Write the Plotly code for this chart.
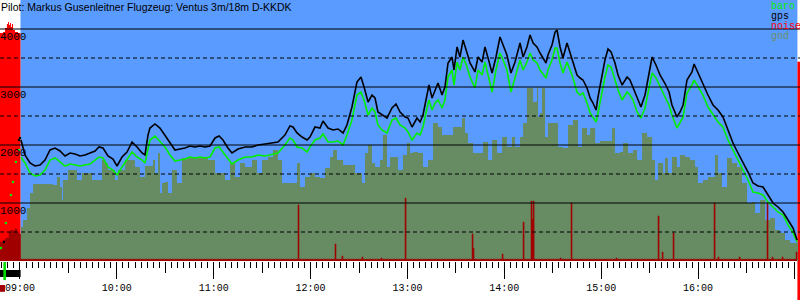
import plotly.graph_objects as go
import pandas as pd

BASE = pd.Timestamp("2000-01-01 09:00:00")

TITLE = "Pilot: Markus Gusenleitner Flugzeug: Ventus 3m/18m D-KKDK"

# ---- flight track: minutes after 09:00, gps altitude, baro altitude (m)
track_min = [0.6, 3.1, 6.2, 9.3, 12.4, 15.5, 18.6, 21.7, 24.8, 27.9, 31.0, 34.1, 37.2, 40.3, 43.4,
             46.5, 48.9, 51.4, 54.5, 57.6, 60.1, 63.2, 66.3, 69.4, 72.5, 75.6, 77.4, 79.3, 80.5,
             83.6, 86.7, 89.8, 92.9, 96.0, 99.1, 102.2, 105.3, 108.4, 111.5, 114.6, 117.7, 120.8,
             123.3, 125.7, 128.8, 131.3, 135.0, 139.4, 143.7, 147.4, 151.8, 156.1, 159.8, 164.1,
             167.2, 169.1, 171.6, 174.7, 177.8, 179.6, 182.7, 185.8, 187.7, 190.8, 193.9, 197.0,
             200.1, 202.5, 205.6, 208.7, 211.2, 213.1, 215.6, 218.0, 219.9, 221.7, 224.2, 227.3,
             230.4, 232.9, 235.4, 238.5, 240.3, 242.8, 245.9, 247.8, 249.6, 252.1, 253.3, 255.2,
             257.1, 258.9, 261.4, 263.2, 265.1, 267.6, 268.8, 270.7, 272.5, 274.4, 276.9, 278.7,
             281.8, 283.7, 286.2, 288.0, 289.9, 292.4, 294.8, 297.3, 299.2, 301.6, 304.1, 306.6,
             309.7, 311.6, 314.0, 315.9, 317.8, 320.2, 322.1, 325.8, 327.0, 329.5, 331.4, 332.6,
             334.5, 336.3, 338.8, 340.7, 342.5, 345.0, 346.9, 348.7, 351.2, 353.1, 354.9, 356.8,
             358.0, 360.5, 362.3, 364.2, 366.1, 368.5, 370.4, 372.9, 376.0, 377.8, 379.7, 382.2,
             384.6, 387.1, 389.0, 391.5, 393.9, 396.4, 399.5, 402.0, 403.8, 406.9, 408.8, 410.7,
             413.1, 416.2, 417.5, 419.9, 423.0, 426.1, 429.2, 432.3, 435.4, 438.5, 441.6, 444.7,
             447.8, 450.9, 454.0, 457.1, 460.2, 463.3, 466.4, 469.5, 472.6, 475.7, 478.8, 481.3]

gps_alt = [2086, 1828, 1690, 1638, 1655, 1741, 1914, 1948, 1897, 1810, 1862, 1845, 1810, 1828, 1862,
           1897, 1966, 1948, 1810, 1759, 1638, 1793, 1879, 2052, 1966, 1862, 1828, 2172, 2293,
           2362, 2293, 2172, 2052, 1914, 1931, 1948, 1983, 1966, 1983, 1966, 1983, 2121,
           2155, 2086, 1948, 1862, 1931, 1966, 1966, 2000, 2017, 2034, 2052, 2172,
           2328, 2310, 2207, 2138, 2086, 2138, 2310, 2293, 2414, 2293, 2259, 2276,
           2207, 2345, 2655, 3086, 3172, 3000, 2741, 2862, 2810, 2569, 2517, 2465,
           2638, 2707, 2569, 2483, 2465, 2310, 2465, 2397, 2517, 2862, 3034, 2810,
           2948, 3069, 2862, 3000, 3414, 3517, 3293, 3690, 3517, 3810, 3586, 3414,
           3259, 3517, 3431, 3690, 3500, 3241, 3517, 3862, 3724, 3552, 3241, 3431,
           3759, 3517, 3690, 3897, 3759, 3690, 3586, 3414, 3552, 3724, 3948, 3983,
           3690, 3500, 3759, 3586, 3414, 3207, 3155, 3121, 2983, 2810, 2724, 2603,
           2828, 3172, 3466, 3655, 3603, 3414, 3207, 3034, 3172, 3121, 2983, 2810,
           2655, 2862, 3172, 3517, 3379, 3207, 3060, 2914, 2690, 2483, 2569, 2690,
           3121, 3259, 3396, 3241, 3069, 2862, 2690, 2603, 2483, 2259, 2034, 1862,
           1707, 1534, 1345, 1293, 1276, 1138, 1000, 931, 845, 707, 569, 362]

baro_alt = [1793, 1690, 1517, 1466, 1483, 1569, 1741, 1776, 1707, 1638, 1672, 1655, 1638, 1655, 1672,
            1741, 1793, 1776, 1621, 1569, 1483, 1621, 1741, 1879, 1793, 1741, 1690, 1966, 2086,
            2155, 2052, 1966, 1828, 1724, 1741, 1759, 1793, 1776, 1793, 1776, 1793, 1948,
            1966, 1879, 1759, 1672, 1741, 1793, 1793, 1828, 1810, 1845, 1862, 2000,
            2121, 2086, 1966, 1948, 1879, 1966, 2086, 2121, 2190, 2052, 2052, 2069,
            2000, 2172, 2431, 2862, 2914, 2776, 2517, 2638, 2569, 2345, 2259, 2207,
            2431, 2465, 2345, 2293, 2224, 2086, 2207, 2172, 2310, 2638, 2776, 2603,
            2724, 2776, 2638, 2776, 3172, 3293, 3034, 3431, 3293, 3517, 3345, 3172,
            2983, 3293, 3207, 3431, 3207, 2914, 3293, 3586, 3466, 3293, 2914, 3172,
            3466, 3293, 3431, 3586, 3466, 3414, 3293, 3155, 3293, 3466, 3672, 3672,
            3414, 3241, 3431, 3293, 3155, 2914, 2862, 2897, 2724, 2552, 2483, 2397,
            2552, 2914, 3172, 3379, 3345, 3121, 2948, 2776, 2914, 2862, 2776, 2569,
            2465, 2638, 2914, 3241, 3155, 3000, 2828, 2690, 2517, 2293, 2379, 2483,
            2897, 3034, 3121, 3000, 2862, 2655, 2517, 2397, 2310, 2086, 1914, 1741,
            1569, 1397, 1190, 1172, 1138, 1017, 931, 845, 793, 621, 483, 328]

# launch (aerotow) fixes before 09:00
launch_baro_min = [-11.8, -8.7, -5.6, -4.3, -2.5, -0.6]
launch_baro = [224, 655, 1138, 1362, 1707, 1914]
launch_gps_min = [-9.9, -0.6, 0.0]
launch_gps = [328, 2086, 2121]

# ---- ground elevation below the track
gnd_min = [0.6, 1.9, 4.3, 6.2, 8.1, 10.5, 17.3, 20.4, 22.9, 24.8, 26.0, 26.6, 29.7, 32.8, 35.3,
           38.4, 41.5, 44.6, 50.8, 52.6, 54.5, 58.8, 60.7, 65.1, 68.1, 71.2, 74.3, 77.4, 80.5,
           82.4, 83.6, 85.5, 86.7, 88.0, 89.8, 91.7, 94.1, 97.2, 100.3, 103.4, 108.4, 112.7,
           116.4, 120.8, 125.1, 127.0, 130.1, 133.2, 136.3, 139.4, 143.7, 146.8, 149.9, 153.6,
           156.7, 159.8, 162.3, 168.5, 171.6, 173.4, 176.5, 179.6, 182.7, 185.8, 188.9, 192.0,
           193.9, 196.3, 200.1, 203.2, 207.5, 211.8, 213.7, 215.6, 218.0, 219.9, 223.0, 224.8,
           227.3, 229.2, 232.3, 234.1, 237.2, 239.7, 241.6, 243.4, 246.5, 249.6, 252.7, 255.8,
           258.9, 261.4, 265.1, 268.2, 271.3, 273.8, 275.6, 277.5, 280.6, 283.7, 286.8, 289.9,
           292.4, 295.5, 298.6, 301.6, 304.7, 306.6, 309.7, 311.6, 314.0, 315.9, 317.8, 320.2,
           320.9, 322.1, 323.3, 325.2, 327.0, 330.1, 333.2, 336.3, 339.4, 342.5, 345.6, 348.1,
           351.2, 353.1, 356.2, 359.3, 363.6, 366.7, 368.5, 371.6, 373.5, 376.6, 379.7, 382.2,
           385.3, 388.4, 391.5, 393.3, 395.2, 398.3, 399.5, 401.3, 403.8, 406.9, 408.8, 411.9,
           415.0, 418.1, 419.9, 423.0, 426.1, 430.5, 432.3, 434.8, 437.9, 441.0, 444.1, 447.2,
           450.3, 453.4, 455.3, 458.4, 461.5, 464.6, 467.6, 470.7, 473.8, 476.9, 480.0, 481.9]
gnd_alt = [586, 707, 914, 1172, 1328, 1328, 1328, 1310, 1448, 1276, 1052, 1397, 1569, 1569, 1397,
           1517, 1517, 1397, 1741, 1690, 1569, 1397, 1569, 1741, 1741, 1621, 1448, 1638, 1638,
           1741, 1517, 1862, 1172, 1345, 1362, 1172, 1569, 1345, 1776, 1793, 1776, 1793,
           1741, 1517, 1517, 1397, 1690, 1448, 1690, 1621, 1741, 1517, 1741, 1793,
           1914, 1741, 1345, 1345, 1690, 1276, 1448, 1517, 1448, 1431, 1603, 1793,
           1914, 1741, 1655, 1655, 1517, 1345, 1862, 2000, 1690, 1621, 1741, 2172,
           1621, 1793, 1793, 1569, 1828, 2034, 1862, 1879, 1862, 1621, 1741, 2379,
           2310, 2172, 2172, 2310, 2310, 2465, 2207, 2034, 1862, 1862, 2052, 1741,
           2086, 1862, 2138, 1966, 2138, 1966, 2138, 2379, 2983, 2983, 2741, 3000,
           2483, 2552, 2983, 2138, 2379, 2379, 1966, 1948, 2345, 2431, 1966, 2293,
           2172, 2293, 2034, 2069, 2069, 2293, 1862, 1879, 2034, 1862, 1914, 1741,
           2207, 2138, 1741, 1397, 1690, 1517, 1776, 1517, 1793, 1621, 1828, 1793,
           1741, 1621, 1345, 1397, 1448, 1828, 1517, 1276, 1776, 1690, 1621, 1345,
           1000, 1017, 828, 1052, 707, 741, 534, 483, 362, 310, 310, 138]

# ---- engine noise level (drawn on the altitude scale)
noise_min = [-12.4, -10.5, -8.7, -6.8, -5.6, -4.3, -3.1, -1.9, -0.6, 0.3,
             172.2, 172.8, 195.1, 195.7, 199.4, 200.0, 211.8, 212.4, 223.6, 224.2, 238.5, 239.1,
             280.0, 280.6, 281.2, 298.6, 299.2, 311.6, 312.2, 316.5, 317.1, 317.8, 318.4,
             334.5, 335.1, 341.3, 341.9, 369.2, 369.8, 395.2, 395.8, 397.7, 398.3, 404.5, 405.1,
             429.9, 430.5, 432.3, 432.9, 445.4, 446.0, 462.7, 463.3, 465.8, 466.4, 472.0, 472.6,
             480.7, 481.3]
noise_val = [328, 362, 397, 500, 534, 517, 552, 483, 466, 30,
             966, 30, 293, 30, 86, 30, 69, 30, 52, 30, 1086, 30,
             466, 224, 30, 121, 30, 672, 30, 1034, 724, 1034, 30,
             52, 30, 1000, 30, 52, 30, 776, 30, 155, 30, 483, 30,
             1000, 30, 69, 30, 69, 30, 1000, 30, 69, 30, 69, 30,
             155, 30]

# noise outside the flight (before release / after landing), high level
noise_pre_min = [-12.4, -10.5, -9.3, -8.1, -7.4, -6.8, -6.2, -5.6, -5.0, -4.3, -3.1, -1.2, 0.3]
noise_pre_val = [3931, 3948, 4017, 4086, 4121, 4069, 4103, 4034, 4086, 3983, 3948, 3931, 3931]
noise_post_min = [481.5, 483.1]
noise_post_val = [3436, 3436]

flight_window = [0.3, 481.5]
x_range_min = [-12.38, 483.1]

y_major = [1000, 2000, 3000, 4000]
y_minor = [500, 1500, 2500, 3500]
y_range = [0, 4500]

legend_names = ["baro", "gps", "noise", "gnd"]
legend_colors = ["#00ee00", "#000000", "#ff0000", "#6f8f68"]

SKY = "#5a9bff"
GND = "#678c63"
DARKRED = "#a00000"
MONO = "Liberation Mono, DejaVu Sans Mono, monospace"


def tt(mins):
    return [None if m is None else BASE + pd.Timedelta(minutes=m) for m in mins]


fig = go.Figure()

for xm, yv in ((noise_pre_min, noise_pre_val), (noise_post_min, noise_post_val)):
    fig.add_trace(go.Scatter(x=tt(xm), y=yv, mode="lines", line_shape="hv",
                             fill="tozeroy", fillcolor="#ff0000",
                             line=dict(color="#ff0000", width=0),
                             showlegend=False, hoverinfo="skip"))
fig.add_trace(go.Scatter(x=tt(gnd_min), y=gnd_alt, mode="lines", line_shape="hv", name="gnd",
                         fill="tozeroy", fillcolor=GND, line=dict(color=GND, width=0),
                         showlegend=False))
fig.add_trace(go.Scatter(x=tt(noise_min), y=noise_val, mode="lines", line_shape="hv", name="noise",
                         fill="tozeroy", fillcolor=DARKRED, line=dict(color=DARKRED, width=0.6),
                         showlegend=False))
fig.add_trace(go.Scatter(x=tt(launch_baro_min), y=launch_baro, mode="markers",
                         marker=dict(color="#00ee00", size=2.5), showlegend=False, hoverinfo="skip"))
fig.add_trace(go.Scatter(x=tt(launch_gps_min), y=launch_gps, mode="markers",
                         marker=dict(color="#000000", size=2.5), showlegend=False, hoverinfo="skip"))
fig.add_trace(go.Scatter(x=tt(track_min), y=baro_alt, mode="lines", name="baro",
                         line=dict(color="#00ee00", width=1.6), showlegend=False))
fig.add_trace(go.Scatter(x=tt(track_min), y=gps_alt, mode="lines", name="gps",
                         line=dict(color="#000000", width=1.6), showlegend=False))
# carrier for the half-hour tick axis
fig.add_trace(go.Scatter(x=tt([0]), y=[None], xaxis="x2", mode="lines", showlegend=False,
                         hoverinfo="skip"))

shapes = []
# sky (flight period) background
shapes.append(dict(type="rect", xref="x", yref="paper", x0=tt([flight_window[0]])[0],
                   x1=tt([flight_window[1]])[0], y0=0, y1=1, fillcolor=SKY,
                   line=dict(width=0), layer="below"))
for v in y_major:
    shapes.append(dict(type="line", xref="paper", yref="y", x0=0, x1=1, y0=v, y1=v,
                       line=dict(color="black", width=1), layer="above"))
for v in y_minor:
    shapes.append(dict(type="line", xref="paper", yref="y", x0=0, x1=1, y0=v, y1=v,
                       line=dict(color="black", width=1, dash="4px,3px"), layer="above"))
# time-line markers below the axis
shapes.append(dict(type="rect", xref="x", yref="paper", x0=tt([x_range_min[0]])[0],
                   x1=tt([0.4])[0], y0=-0.0345, y1=-0.0613, fillcolor="black",
                   line=dict(width=0), layer="above"))
shapes.append(dict(type="rect", xref="x", yref="paper", x0=tt([-10.3])[0], x1=tt([-8.7])[0],
                   y0=-0.004, y1=-0.073, fillcolor="#00dd00", line=dict(width=0), layer="above"))
shapes.append(dict(type="rect", xref="x", yref="paper", x0=tt([x_range_min[0]])[0],
                   x1=tt([-9.3])[0], y0=-0.092, y1=-0.118, fillcolor=DARKRED,
                   line=dict(width=0), layer="above"))
shapes.append(dict(type="rect", xref="x", yref="paper", x0=tt([noise_post_min[0]])[0],
                   x1=tt([noise_post_min[-1]])[0], y0=0, y1=-0.15, fillcolor="#ff0000",
                   line=dict(width=0), layer="above"))

annotations = [dict(text=TITLE, xref="paper", yref="paper", x=0, y=1, xanchor="left",
                    yanchor="top", showarrow=False, xshift=-1, yshift=1,
                    font=dict(family="Liberation Sans, Arial, sans-serif", size=10.5, color="black"))]
for v in y_major:
    annotations.append(dict(text=str(v), xref="paper", yref="y", x=0, y=v, xanchor="left",
                            yanchor="top", showarrow=False, xshift=-2, yshift=0,
                            font=dict(family=MONO, size=11, color="black")))
leg_y = [0.976, 0.938, 0.899, 0.862]
for name, col, yy in zip(legend_names, legend_colors, leg_y):
    annotations.append(dict(text=name, xref="paper", yref="paper", x=0.9612, y=yy,
                            xanchor="left", yanchor="middle", showarrow=False,
                            font=dict(family=MONO, size=10, color=col)))

rng = tt(x_range_min)
fig.update_layout(
    width=800, height=300,
    margin=dict(l=0, r=0, t=0, b=39, pad=0),
    paper_bgcolor="white", plot_bgcolor="white",
    showlegend=False,
    shapes=shapes, annotations=annotations,
    xaxis=dict(type="date", range=rng, tickformat="%H:%M", dtick=3600000,
               tick0=BASE, ticks="outside", ticklen=17, tickwidth=1, tickcolor="black",
               showgrid=False, zeroline=False, showline=False,
               tickfont=dict(family=MONO, size=10, color="black"),
               minor=dict(dtick=225000, ticks="outside", ticklen=6, tickwidth=1,
                          tickcolor="black", showgrid=False)),
    xaxis2=dict(type="date", overlaying="x", matches="x", anchor="y", side="bottom",
                dtick=1800000, tick0=BASE, ticks="outside", ticklen=11, tickwidth=1,
                tickcolor="black", showticklabels=False, showgrid=False, zeroline=False,
                showline=False),
    yaxis=dict(range=y_range, showgrid=False, zeroline=False, showticklabels=False,
               ticks="", showline=False),
)

fig.write_html("out.html")
